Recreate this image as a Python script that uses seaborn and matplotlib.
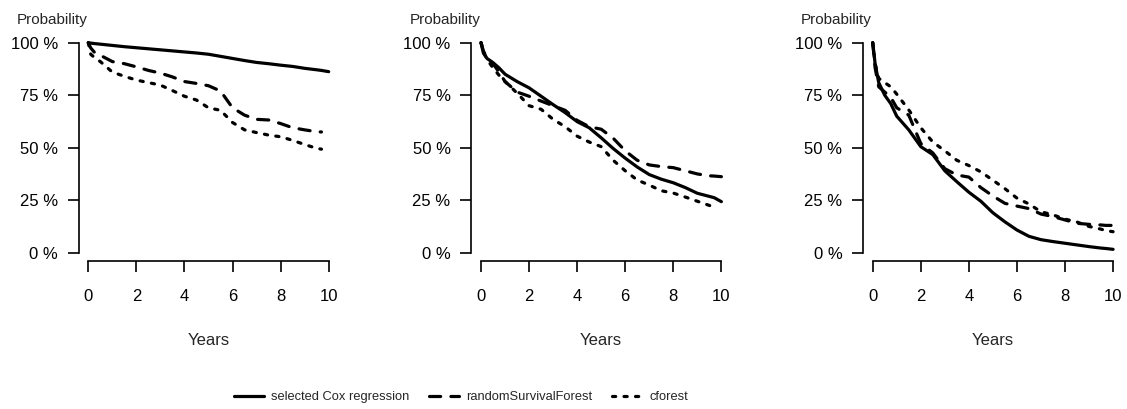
import numpy as np
import pandas as pd
import matplotlib
matplotlib.use("Agg")
import matplotlib.pyplot as plt
import seaborn as sns

# ---------------- data ----------------
models = ["selected Cox regression", "randomSurvivalForest", "cforest"]
years = [0, 0.1, 0.25, 0.5, 0.75, 1, 1.5, 2, 2.5, 3, 3.5, 4, 4.5, 5, 5.5,
         6, 6.5, 7, 7.5, 8, 8.5, 9, 9.5, 9.7, 10]
x_ticks = [0, 2, 4, 6, 8, 10]
y_ticks = [0, 0.25, 0.5, 0.75, 1.0]
y_tick_labels = ["0 %", "25 %", "50 %", "75 %", "100 %"]

p1_cox = [1.0, 0.998, 0.996, 0.993, 0.99, 0.987, 0.981, 0.976, 0.971, 0.966, 0.961,
          0.956, 0.951, 0.945, 0.935, 0.925, 0.915, 0.906, 0.9, 0.893, 0.887, 0.878,
          0.871, 0.868, 0.862]
p1_rsf = [1.0, 0.975, 0.955, 0.94, 0.925, 0.91, 0.9, 0.885, 0.868, 0.855, 0.837,
          0.815, 0.806, 0.795, 0.77, 0.69, 0.655, 0.635, 0.632, 0.615, 0.595, 0.585,
          0.576, 0.575, np.nan]
p1_cf = [1.0, 0.945, 0.93, 0.91, 0.885, 0.86, 0.84, 0.822, 0.81, 0.798, 0.772,
         0.745, 0.727, 0.69, 0.678, 0.62, 0.585, 0.572, 0.56, 0.552, 0.535, 0.515,
         0.497, 0.493, np.nan]

p2_cox = [1.0, 0.95, 0.925, 0.905, 0.88, 0.85, 0.815, 0.785, 0.745, 0.705, 0.667,
          0.624, 0.595, 0.547, 0.496, 0.45, 0.408, 0.372, 0.35, 0.333, 0.31, 0.283,
          0.268, 0.262, 0.243]
p2_rsf = [1.0, 0.96, 0.93, 0.9, 0.86, 0.815, 0.765, 0.745, 0.722, 0.70, 0.678,
          0.63, 0.6, 0.588, 0.545, 0.485, 0.44, 0.418, 0.41, 0.405, 0.39, 0.375,
          0.366, 0.365, 0.362]
p2_cf = [1.0, 0.96, 0.92, 0.88, 0.845, 0.815, 0.76, 0.70, 0.683, 0.635, 0.6,
         0.555, 0.527, 0.505, 0.44, 0.39, 0.346, 0.322, 0.295, 0.284, 0.265, 0.245,
         0.225, 0.218, np.nan]

p3_cox = [1.0, 0.9, 0.81, 0.75, 0.71, 0.65, 0.585, 0.505, 0.467, 0.39, 0.338,
          0.288, 0.245, 0.19, 0.147, 0.108, 0.078, 0.062, 0.053, 0.045, 0.037, 0.029,
          0.022, 0.02, 0.016]
p3_rsf = [1.0, 0.88, 0.79, 0.765, 0.74, 0.69, 0.655, 0.52, 0.475, 0.40, 0.37,
          0.36, 0.31, 0.27, 0.235, 0.222, 0.21, 0.184, 0.172, 0.156, 0.14, 0.135,
          0.132, 0.13, 0.13]
p3_cf = [1.0, 0.9, 0.83, 0.81, 0.79, 0.755, 0.68, 0.595, 0.527, 0.485, 0.44,
         0.415, 0.385, 0.345, 0.305, 0.26, 0.232, 0.195, 0.18, 0.16, 0.146, 0.125,
         0.112, 0.105, 0.10]

panels = [(p1_cox, p1_rsf, p1_cf), (p2_cox, p2_rsf, p2_cf), (p3_cox, p3_rsf, p3_cf)]

# ---------------- style ----------------
sns.set_theme(style="ticks")
plt.rcParams["font.family"] = ["Liberation Sans", "DejaVu Sans"]

W, H = 1127, 409
fig = plt.figure(figsize=(W / 100, H / 100), dpi=100)

dash_styles = ["", (3.5, 3.2), (1.0, 2.6)]
ax_lefts = [78.7, 471.4, 863.1]
ax_w, ax_top, ax_bottom = 259.6, 34.3, 261.1

axes = []
for i, (cox, rsf, cf) in enumerate(panels):
    ax = fig.add_axes([ax_lefts[i] / W, 1 - ax_bottom / H, ax_w / W, (ax_bottom - ax_top) / H])
    frames = []
    for m, vals in zip(models, (cox, rsf, cf)):
        frames.append(pd.DataFrame({"time": years, "survival": vals, "model": m}))
    df = pd.concat(frames, ignore_index=True).dropna()
    sns.lineplot(data=df, x="time", y="survival", style="model", style_order=models,
                 dashes=dash_styles, color="black", linewidth=2.3, estimator=None,
                 legend=False, ax=ax)
    for ln in ax.get_lines():
        ln.set_solid_capstyle("round")
        ln.set_dash_capstyle("round")
    ax.set_xlim(-0.4, 10.4)
    ax.set_ylim(-0.04, 1.04)
    ax.set_xticks(x_ticks)
    ax.set_xticklabels([str(t) for t in x_ticks])
    ax.set_yticks(y_ticks)
    ax.set_yticklabels(y_tick_labels)
    ax.tick_params(axis="both", which="major", length=8, width=1.2, pad=7,
                   labelsize=12, color="black", labelcolor="black", direction="out")
    ax.tick_params(axis="x", pad=12)
    for s in ("top", "right"):
        ax.spines[s].set_visible(False)
    ax.spines["left"].set_bounds(0, 1)
    ax.spines["bottom"].set_bounds(0, 10)
    for s in ("left", "bottom"):
        ax.spines[s].set_linewidth(1.2)
        ax.spines[s].set_color("black")
    ax.set_xlabel("Years", fontsize=12, labelpad=21)
    ax.set_ylabel("")
    ax.text(-0.102, 1.062, "Probability", transform=ax.transAxes, fontsize=11,
            ha="center", va="center")
    ax.set_facecolor("white")
    axes.append(ax)

handles = axes[0].get_lines()[:3]
fig.legend(handles=handles, labels=models, ncol=3, loc="center",
           bbox_to_anchor=(461 / W, 1 - 397 / H), frameon=False, fontsize=9.3,
           handlelength=2.3, handletextpad=0.55, columnspacing=1.55)

fig.savefig("out.png", dpi=100, facecolor="white")
